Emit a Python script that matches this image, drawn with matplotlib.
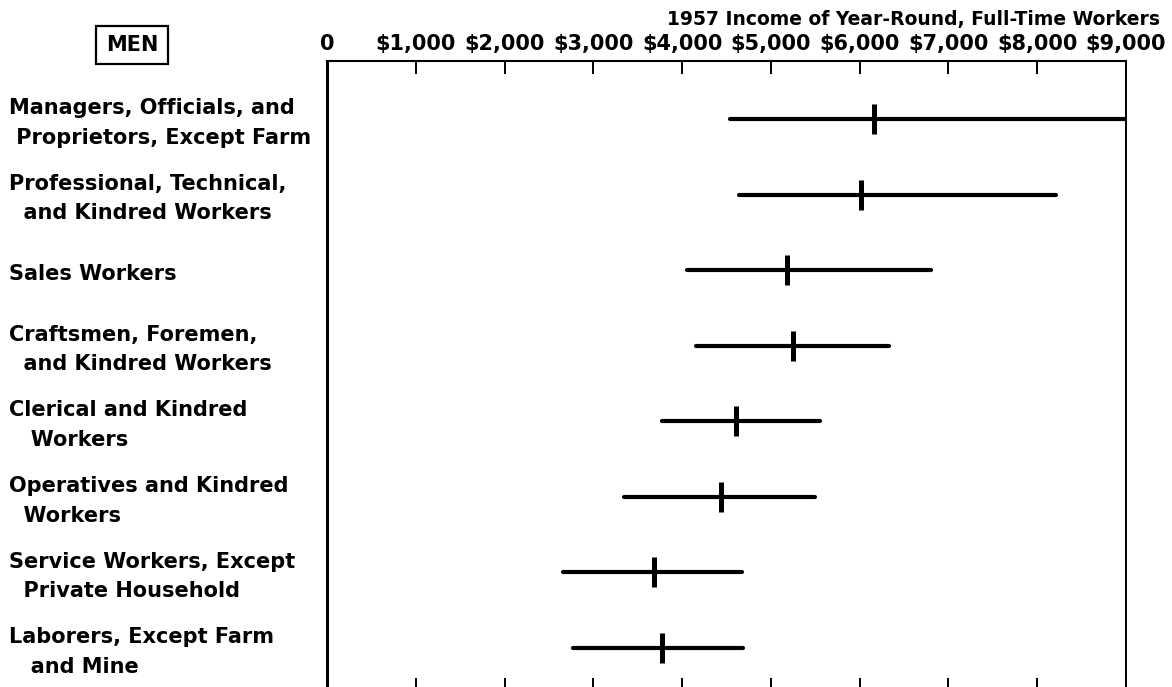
import matplotlib.pyplot as plt
import matplotlib.transforms as mtransforms

# 1957 income of year-round, full-time workers (men), by occupation group
occupations = [
    "Managers, Officials, and\n Proprietors, Except Farm",
    "Professional, Technical,\n  and Kindred Workers",
    "Sales Workers",
    "Craftsmen, Foremen,\n  and Kindred Workers",
    "Clerical and Kindred\n   Workers",
    "Operatives and Kindred\n  Workers",
    "Service Workers, Except\n  Private Household",
    "Laborers, Except Farm\n   and Mine",
]
low = [4540, 4640, 4050, 4160, 3770, 3350, 2660, 2770]
median = [6160, 6010, 5180, 5250, 4610, 4440, 3680, 3770]
high = [9000, 8210, 6800, 6330, 5550, 5500, 4670, 4690]

ticks = list(range(0, 10000, 1000))
tick_labels = ["0"] + ["${:,}".format(t) for t in ticks[1:]]

W, H = 1172, 687
fig = plt.figure(figsize=(W / 100, H / 100), dpi=100)
ax = fig.add_axes([327 / W, 1 - 691 / H, (1126 - 327) / W, (691 - 61) / H])

rows = list(range(len(occupations)))
for i in rows:
    ax.plot([low[i], high[i]], [i, i], color="black", lw=3,
            solid_capstyle="round", clip_on=True)
    ax.plot(median[i], i, marker="|", color="black", markersize=21,
            markeredgewidth=3.6)

ax.set_xlim(0, 9000)
ax.set_ylim(7.57, -0.767)
ax.set_yticks([])
ax.set_xticks(ticks)
ax.set_xticklabels(tick_labels, fontsize=15, fontweight="bold",
                   family="DejaVu Sans")
ax.tick_params(axis="x", direction="in", top=True, bottom=True,
               labeltop=True, labelbottom=False, length=9.5, width=1.4,
               pad=5)
ax.spines["left"].set_linewidth(2.2)
ax.spines["top"].set_linewidth(1.5)
ax.spines["right"].set_linewidth(1.4)
ax.spines["bottom"].set_visible(False)

# occupation labels, x in figure pixels, y follows the data rows
blend = mtransforms.blended_transform_factory(fig.transFigure, ax.transData)
label_tr = mtransforms.offset_copy(blend, fig=fig, x=0, y=-4, units="dots")
for i, name in enumerate(occupations):
    fig.text(9 / W, i, name, transform=label_tr, ha="left", va="center",
             fontsize=15, fontweight="bold", family="DejaVu Sans",
             linespacing=1.6)

fig.text(132 / W, 1 - 45 / H, "MEN", ha="center", va="center",
         fontsize=15, fontweight="bold", family="DejaVu Sans",
         bbox=dict(boxstyle="square,pad=0.45", fc="white", ec="black", lw=1.6))

fig.text(1160 / W, 1 - 20 / H, "1957 Income of Year-Round, Full-Time Workers",
         ha="right", va="center", fontsize=13.5, fontweight="bold",
         family="DejaVu Sans")

fig.savefig("out.png", dpi=100)
